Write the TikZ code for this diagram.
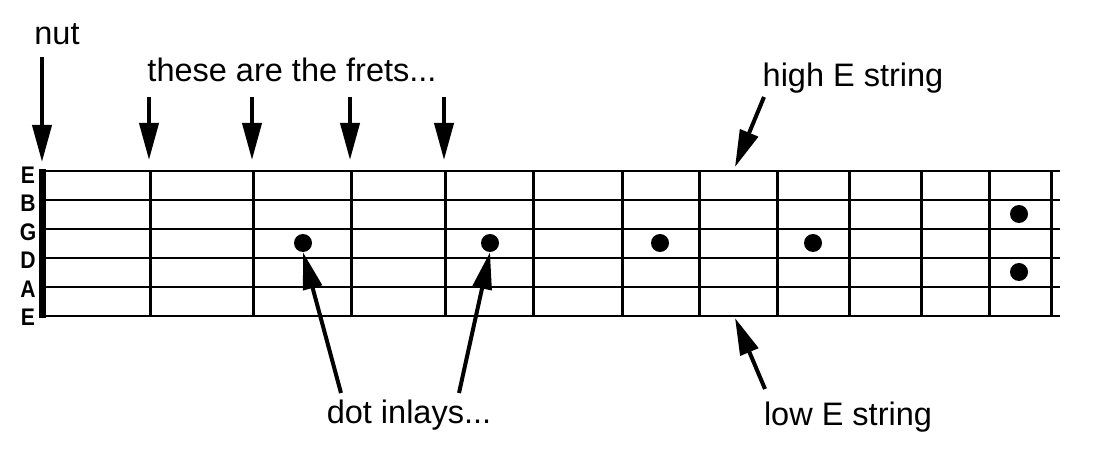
\documentclass[tikz,border=0pt]{standalone}
\usepackage{fontspec}
\setmainfont{Liberation Sans}
\usetikzlibrary{arrows.meta}
\begin{document}
\begin{tikzpicture}[x=1pt,y=-1pt,
  strline/.style={line width=2pt},
  fretline/.style={line width=3pt},
  nutbar/.style={fill=black},
  inlay/.style={circle,fill=black,inner sep=0pt,minimum size=18pt},
  lbl/.style={inner sep=0pt,font=\fontsize{32.5}{38}\selectfont},
  strlbl/.style={inner sep=0pt,xscale=0.88,font=\fontsize{24}{26}\selectfont\bfseries},
  pointer/.style={line width=4pt,-{Triangle[length=37pt,width=19pt]}}]
\useasboundingbox (0,0) rectangle (1095,462);
% strings
\foreach \y in {171,200,229,258,287,316} \draw[strline] (42,\y) -- (1060,\y);
% nut
\fill[nutbar] (39,169) rectangle (46,318);
% frets
\foreach \x in {150,253,351,445,533,622,699,777,849,921,989,1051} \draw[fretline] (\x,171) -- (\x,316);
% string letters
\foreach \l/\y in {E/175,B/203,G/232,D/260,A/289,E/317} \node[strlbl] at (28,\y) {\l};
% inlays
\node[inlay] (d3) at (303,243) {};
\node[inlay] (d5) at (490,243) {};
\node[inlay] at (660,243) {};
\node[inlay] at (813,243) {};
\node[inlay] at (1019,214) {};
\node[inlay] at (1019,272) {};
% labels
\node[lbl,anchor=base] (nut) at (57,45) {nut};
\node[lbl,anchor=base] (frets) at (292,82) {these are the frets...};
\node[lbl,anchor=base] (high) at (853,87) {high E string};
\node[lbl,anchor=base] (dots) at (409,423) {dot inlays...};
\node[lbl,anchor=base] (low) at (848,425) {low E string};
% arrow coordinates
\coordinate (nutT) at (42,57); \coordinate (nutH) at (42,162);
\foreach \x [count=\i] in {149,252,350,444} {
  \coordinate (fT\i) at (\x,97); \coordinate (fH\i) at (\x,160);
  \draw[pointer] (fT\i) -- (fH\i);
}
\draw[pointer] (nutT) -- (nutH);
\coordinate (hT) at (764,97); \coordinate (hH) at (735,167);
\draw[pointer] (hT) -- (hH);
\coordinate (lT) at (765,389); \coordinate (lH) at (735,318);
\draw[pointer] (lT) -- (lH);
\coordinate (dT1) at (341,393); \coordinate (dT2) at (459,393);
\draw[pointer] (dT1) -- (d3.south);
\draw[pointer] (dT2) -- (d5.south);
\end{tikzpicture}
\end{document}
